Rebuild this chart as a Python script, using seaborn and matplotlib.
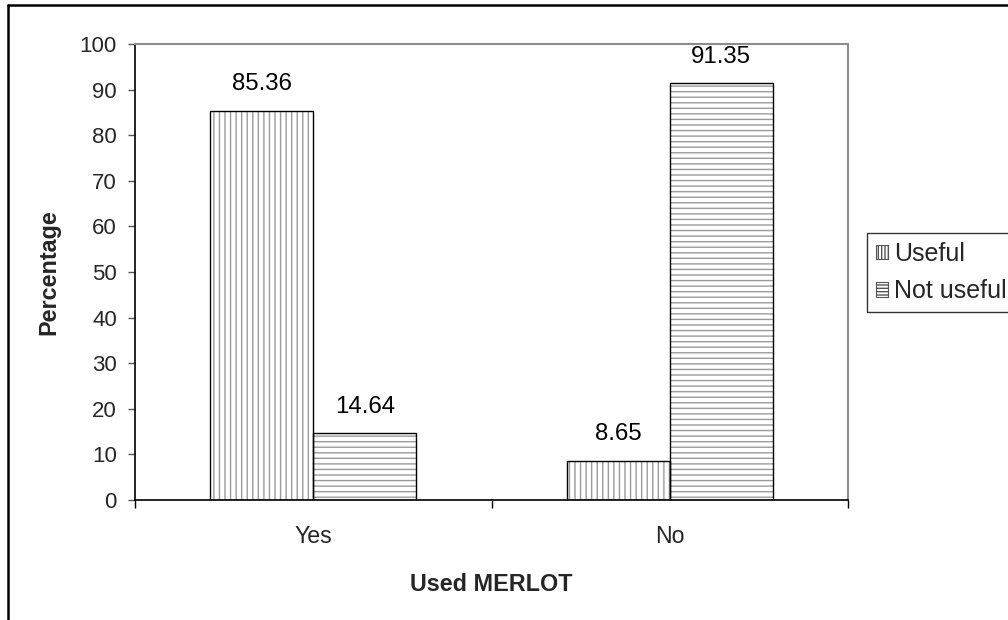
import matplotlib
matplotlib.use("Agg")
import matplotlib.pyplot as plt
import matplotlib.patches as mpatches
from matplotlib.lines import Line2D
import seaborn as sns
import pandas as pd

# Survey responses: usefulness split by whether MERLOT was used
used = ["Yes", "No"]
responses = ["Useful", "Not useful"]
useful_pct = [85.36, 8.65]
not_useful_pct = [14.64, 91.35]
y_ticks = [0, 10, 20, 30, 40, 50, 60, 70, 80, 90, 100]

df = pd.DataFrame({
    "Used MERLOT": used * 2,
    "Response": [responses[0]] * 2 + [responses[1]] * 2,
    "Percentage": useful_pct + not_useful_pct,
})

sns.set_theme(style="white")
plt.rcParams["font.family"] = ["Liberation Sans", "DejaVu Sans"]
plt.rcParams["hatch.linewidth"] = 1.0

fig = plt.figure(figsize=(10.08, 6.2), dpi=100)
ax = fig.add_axes([135 / 1008, 1 - 500 / 620, (848 - 135) / 1008, (500 - 44) / 620])

hatches = ["|||", "---"]
bar_width = 0.578

# hatched fills (hatch drawn in grey)
sns.barplot(data=df, x="Used MERLOT", y="Percentage", hue="Response",
            order=used, hue_order=responses, palette=["white", "white"],
            width=bar_width, gap=0, edgecolor="#9a9a9a", linewidth=0,
            legend=False, ax=ax, errorbar=None)
for cont, h in zip(ax.containers, hatches):
    for p in cont:
        p.set_hatch(h)
        p.set_edgecolor("#9a9a9a")
        p.set_linewidth(0)

# black outlines over the hatched fills
sns.barplot(data=df, x="Used MERLOT", y="Percentage", hue="Response",
            order=used, hue_order=responses, palette=["black", "black"],
            width=bar_width, gap=0, fill=False, linewidth=1.0,
            legend=False, ax=ax, errorbar=None)

# value labels above each bar
for cont in ax.containers[:2]:
    ax.bar_label(cont, labels=[f"{v.get_height():.2f}" for v in cont],
                 padding=11, fontsize=17.3, color="black")

ax.set_xlim(-0.5, 1.5)
ax.set_ylim(0, 100)
ax.set_yticks(y_ticks)
ax.set_yticklabels([str(t) for t in y_ticks], fontsize=16)
ax.set_xticks([0, 1])
ax.set_xticklabels(used, fontsize=16.7)
ax.set_xticks([-0.5, 0.5, 1.5], minor=True)
ax.tick_params(axis="x", which="major", length=0, pad=18)
ax.tick_params(axis="x", which="minor", length=6, width=1, color="black",
               direction="out", bottom=True)
ax.tick_params(axis="y", which="major", length=5, width=1, color="#555555",
               direction="out", left=True, pad=8)

ax.set_xlabel("Used MERLOT", fontsize=16.8, fontweight="bold", labelpad=18)
ax.set_ylabel("Percentage", fontsize=16.8, fontweight="bold", labelpad=14)

for side in ["left", "bottom"]:
    ax.spines[side].set_color("black")
    ax.spines[side].set_linewidth(1.2)
for side in ["top", "right"]:
    ax.spines[side].set_visible(True)
    ax.spines[side].set_color("#8c8c8c")
    ax.spines[side].set_linewidth(1.5)

# legend
handles = [
    mpatches.Patch(facecolor="white", edgecolor="#555555", hatch="|||||", linewidth=0.8, label=responses[0]),
    mpatches.Patch(facecolor="white", edgecolor="#555555", hatch="-----", linewidth=0.8, label=responses[1]),
]
leg = fig.legend(handles=handles, loc="upper left", bbox_to_anchor=(867 / 1008, 1 - 233 / 620),
                 frameon=True, fancybox=False, fontsize=18, handlelength=0.5, handleheight=0.5,
                 handletextpad=0.22, borderpad=0.35, labelspacing=0.55, borderaxespad=0)
leg.get_frame().set_edgecolor("black")
leg.get_frame().set_linewidth(1.0)

# outer chart border (top and left edges visible)
fig.add_artist(Line2D([8 / 1008, 1.0], [1 - 5 / 620, 1 - 5 / 620], color="black", linewidth=1.8,
                      transform=fig.transFigure))
fig.add_artist(Line2D([8 / 1008, 8 / 1008], [0.0, 1 - 5 / 620], color="black", linewidth=1.8,
                      transform=fig.transFigure))

fig.savefig("out.png", dpi=100)
